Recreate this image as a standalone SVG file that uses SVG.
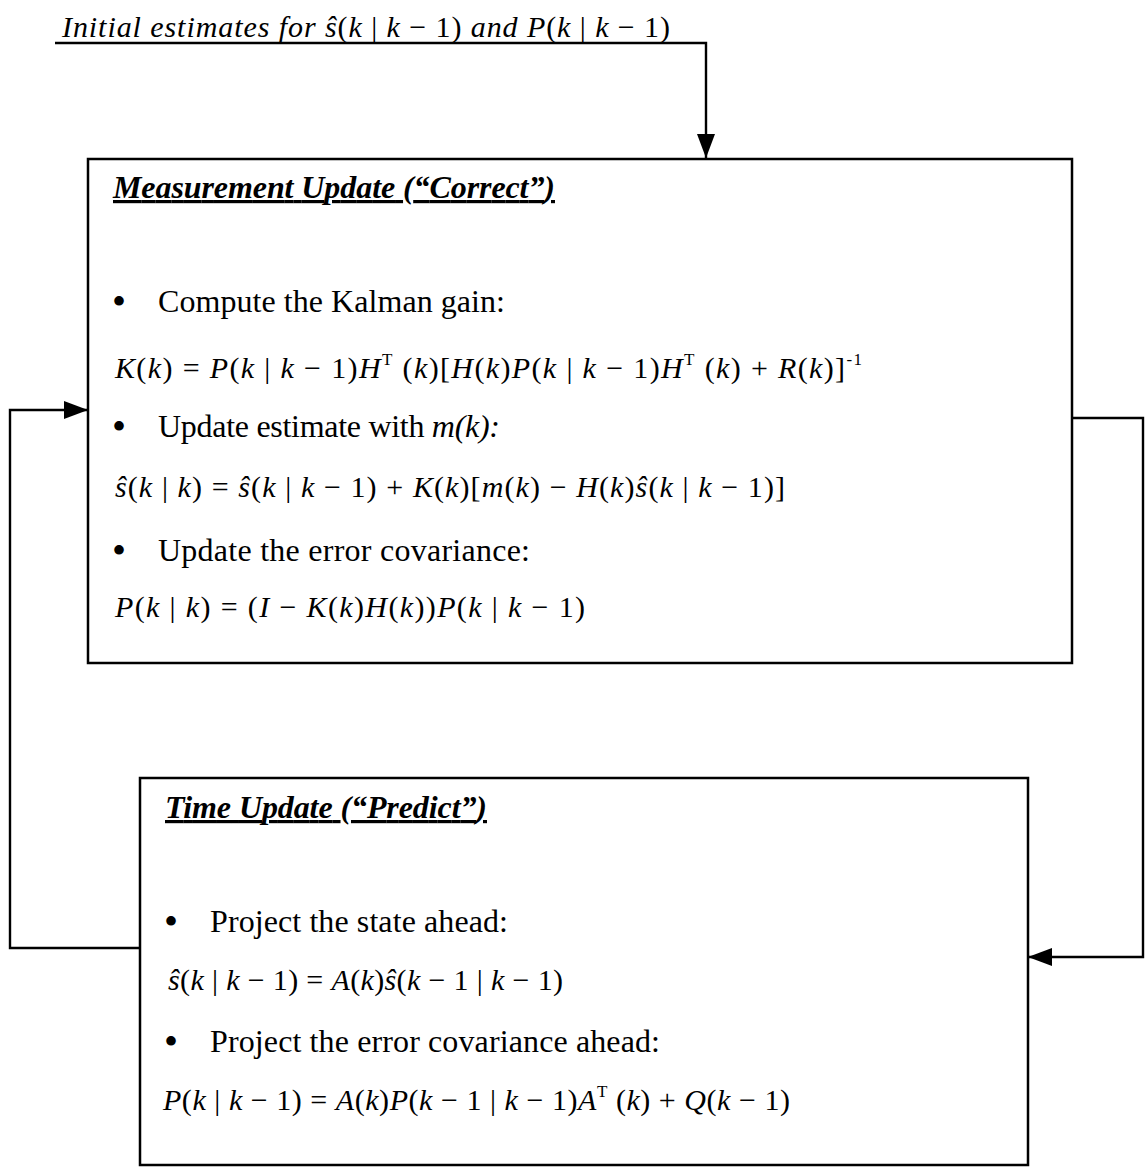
<svg xmlns="http://www.w3.org/2000/svg" width="1145" height="1171" viewBox="0 0 1145 1171">
<defs>
<style>
text { font-family: "Liberation Serif", "Times New Roman", serif; fill: #000; }
.lbl { font-size: 30px; font-style: italic; }
.ttl { font-size: 32px; font-weight: bold; font-style: italic; text-decoration: underline; }
.body { font-size: 32px; }
.bul { font-size: 40px; }
.eq { font-size: 30px; }
.i { font-style: italic; }
.sup { font-size: 17px; }
.box { fill: #fff; stroke: #000; stroke-width: 2.5; }
.conn { fill: none; stroke: #000; stroke-width: 2.4; }
</style>
<marker id="ah" viewBox="0 0 24 18" refX="24" refY="9" markerWidth="24" markerHeight="18" orient="auto" markerUnits="userSpaceOnUse">
<path d="M0,0 L24,9 L0,18 z" fill="#000"/>
</marker>
</defs>
<rect width="1145" height="1171" fill="#fff"/>

<g id="connectors">
<path class="conn" d="M55,43 H706 V158" marker-end="url(#ah)"/>
<path class="conn" d="M140,948 H10 V410 H88" marker-end="url(#ah)"/>
<path class="conn" d="M1072,418 H1143 V957 H1028" marker-end="url(#ah)"/>
</g>

<g id="initial-label">
<text class="lbl" x="62" y="37" textLength="608" lengthAdjust="spacing">Initial estimates for <tspan>ŝ</tspan><tspan font-style="normal">(</tspan>k<tspan font-style="normal"> | </tspan>k<tspan font-style="normal"> − 1)</tspan> and P<tspan font-style="normal">(</tspan>k<tspan font-style="normal"> | </tspan>k<tspan font-style="normal"> − 1)</tspan></text>
</g>

<g id="measurement-update">
<rect class="box" x="88" y="159" width="984" height="504"/>
<text class="ttl" x="113" y="198" textLength="442" lengthAdjust="spacing">Measurement Update (“Correct”)</text>
<text class="bul" x="112" y="315">•</text>
<text class="body" x="158" y="312" textLength="347" lengthAdjust="spacing">Compute the Kalman gain:</text>
<text class="eq" x="115" y="378" textLength="747" lengthAdjust="spacing"><tspan class="i">K</tspan>(<tspan class="i">k</tspan>) = <tspan class="i">P</tspan>(<tspan class="i">k</tspan> | <tspan class="i">k</tspan> − 1)<tspan class="i">H</tspan><tspan class="sup" dy="-13">T</tspan><tspan dy="13"> (</tspan><tspan class="i">k</tspan>)[<tspan class="i">H</tspan>(<tspan class="i">k</tspan>)<tspan class="i">P</tspan>(<tspan class="i">k</tspan> | <tspan class="i">k</tspan> − 1)<tspan class="i">H</tspan><tspan class="sup" dy="-13">T</tspan><tspan dy="13"> (</tspan><tspan class="i">k</tspan>) + <tspan class="i">R</tspan>(<tspan class="i">k</tspan>)]<tspan class="sup" dy="-13">-1</tspan></text>
<text class="bul" x="112" y="440">•</text>
<text class="body" x="158" y="437" textLength="342" lengthAdjust="spacing">Update estimate with <tspan class="i">m(k):</tspan></text>
<text class="eq" x="115" y="497" textLength="670" lengthAdjust="spacing"><tspan class="i">ŝ</tspan>(<tspan class="i">k</tspan> | <tspan class="i">k</tspan>) = <tspan class="i">ŝ</tspan>(<tspan class="i">k</tspan> | <tspan class="i">k</tspan> − 1) + <tspan class="i">K</tspan>(<tspan class="i">k</tspan>)[<tspan class="i">m</tspan>(<tspan class="i">k</tspan>) − <tspan class="i">H</tspan>(<tspan class="i">k</tspan>)<tspan class="i">ŝ</tspan>(<tspan class="i">k</tspan> | <tspan class="i">k</tspan> − 1)]</text>
<text class="bul" x="112" y="564">•</text>
<text class="body" x="158" y="561" textLength="372" lengthAdjust="spacing">Update the error covariance:</text>
<text class="eq" x="115" y="617" textLength="470" lengthAdjust="spacing"><tspan class="i">P</tspan>(<tspan class="i">k</tspan> | <tspan class="i">k</tspan>) = (<tspan class="i">I</tspan> − <tspan class="i">K</tspan>(<tspan class="i">k</tspan>)<tspan class="i">H</tspan>(<tspan class="i">k</tspan>))<tspan class="i">P</tspan>(<tspan class="i">k</tspan> | <tspan class="i">k</tspan> − 1)</text>
</g>

<g id="time-update">
<rect class="box" x="140" y="778" width="888" height="387"/>
<text class="ttl" x="165" y="818" textLength="322" lengthAdjust="spacing">Time Update (“Predict”)</text>
<text class="bul" x="164" y="935">•</text>
<text class="body" x="210" y="932" textLength="298" lengthAdjust="spacing">Project the state ahead:</text>
<text class="eq" x="168" y="990" textLength="395" lengthAdjust="spacing"><tspan class="i">ŝ</tspan>(<tspan class="i">k</tspan> | <tspan class="i">k</tspan> − 1) = <tspan class="i">A</tspan>(<tspan class="i">k</tspan>)<tspan class="i">ŝ</tspan>(<tspan class="i">k</tspan> − 1 | <tspan class="i">k</tspan> − 1)</text>
<text class="bul" x="164" y="1055">•</text>
<text class="body" x="210" y="1052" textLength="450" lengthAdjust="spacing">Project the error covariance ahead:</text>
<text class="eq" x="163" y="1110" textLength="627" lengthAdjust="spacing"><tspan class="i">P</tspan>(<tspan class="i">k</tspan> | <tspan class="i">k</tspan> − 1) = <tspan class="i">A</tspan>(<tspan class="i">k</tspan>)<tspan class="i">P</tspan>(<tspan class="i">k</tspan> − 1 | <tspan class="i">k</tspan> − 1)<tspan class="i">A</tspan><tspan class="sup" dy="-13">T</tspan><tspan dy="13"> (</tspan><tspan class="i">k</tspan>) + <tspan class="i">Q</tspan>(<tspan class="i">k</tspan> − 1)</text>
</g>
</svg>
